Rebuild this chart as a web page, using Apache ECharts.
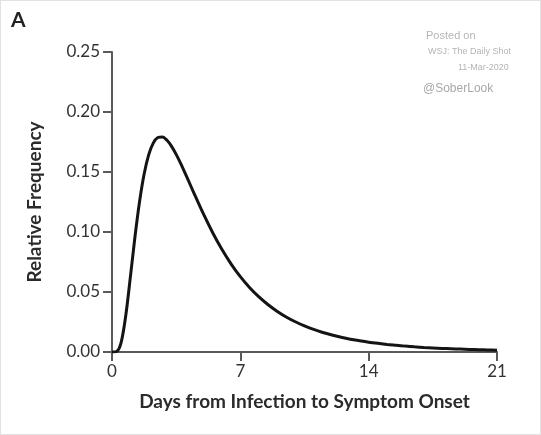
<!DOCTYPE html>
<html>
<head>
<meta charset="utf-8">
<script src="https://cdn.jsdelivr.net/npm/echarts@6/dist/echarts.min.js"></script>
<style>
html,body{margin:0;padding:0;background:#fff;}
#c{width:541px;height:435px;box-sizing:border-box;border:1px solid #e2e2e2;}
</style>
</head>
<body>
<div id="c"></div>
<script>
const days = [0, 0.25, 0.5, 0.75, 1, 1.25, 1.5, 1.75, 2, 2.25, 2.5, 2.75, 3, 3.25, 3.5, 3.75, 4,
  4.5, 5, 5.5, 6, 6.5, 7, 7.5, 8, 8.5, 9, 9.5, 10, 10.5, 11, 11.5, 12, 12.5, 13, 13.5, 14,
  14.5, 15, 15.5, 16, 16.5, 17, 17.5, 18, 18.5, 19, 19.5, 20, 20.5, 21];
const freq = [0, 0.0004, 0.0081, 0.0303, 0.0622, 0.0956, 0.1250, 0.1481, 0.1643, 0.1741, 0.1787, 0.1792, 0.1764, 0.1714, 0.1647, 0.1570, 0.1486,
  0.1314, 0.1146, 0.0992, 0.0854, 0.0733, 0.0628, 0.0538, 0.0461, 0.0396, 0.0340, 0.0292, 0.0252, 0.0218, 0.0188, 0.0163, 0.0142, 0.0123, 0.0107, 0.0094, 0.0082,
  0.0072, 0.0063, 0.0056, 0.0049, 0.0043, 0.0038, 0.0034, 0.0030, 0.0027, 0.0024, 0.0021, 0.0019, 0.0017, 0.0015];
const xTicks = [0, 7, 14, 21];
const yTicks = [0, 0.05, 0.10, 0.15, 0.20, 0.25];
const panelLabel = 'A';
const xName = 'Days from Infection to Symptom Onset';
const yName = 'Relative Frequency';
const credit = ['Posted on', 'WSJ: The Daily Shot', '11-Mar-2020', '@SoberLook'];

const chart = echarts.init(document.getElementById('c'), null, {renderer: 'canvas'});
const font = 'Lato, "Open Sans", sans-serif';
const axisColor = '#5a5a5a';
chart.setOption({
  animation: false,
  backgroundColor: '#fff',
  grid: {left: 111, right: 43, top: 51, bottom: 82},
  xAxis: {
    type: 'value', min: xTicks[0], max: xTicks[xTicks.length - 1], interval: 7,
    name: xName, nameLocation: 'middle', nameGap: 40,
    nameTextStyle: {fontFamily: font, fontWeight: 'bold', fontSize: 19, color: '#2b2b2b'},
    axisLine: {lineStyle: {color: axisColor, width: 2}},
    axisTick: {show: true, length: 9, lineStyle: {color: axisColor, width: 2}},
    axisLabel: {fontFamily: font, fontSize: 17, color: '#333', margin: 11},
    splitLine: {show: false}
  },
  yAxis: {
    type: 'value', min: yTicks[0], max: yTicks[yTicks.length - 1], interval: 0.05,
    name: yName, nameLocation: 'middle', nameGap: 68, nameRotate: 90,
    nameTextStyle: {fontFamily: font, fontWeight: 'bold', fontSize: 19, color: '#2b2b2b'},
    axisLine: {show: true, lineStyle: {color: axisColor, width: 2}},
    axisTick: {show: true, length: 9, lineStyle: {color: axisColor, width: 2}},
    axisLabel: {fontFamily: font, fontSize: 17, color: '#333', margin: 12,
      formatter: v => v.toFixed(2)},
    splitLine: {show: false}
  },
  graphic: [
    {type: 'text', left: 10, top: 9, style: {text: panelLabel, font: 'bold 21px ' + font, fill: '#222'}},
    {type: 'text', left: 425, top: 29, style: {text: credit[0], font: '11px "Liberation Sans", Arial, sans-serif', fill: '#b5b5b5'}},
    {type: 'text', left: 427, top: 46, style: {text: credit[1], font: '9px "Liberation Sans", Arial, sans-serif', fill: '#b5b5b5'}},
    {type: 'text', left: 457, top: 62, style: {text: credit[2], font: '9px "Liberation Sans", Arial, sans-serif', fill: '#b5b5b5'}},
    {type: 'text', left: 422, top: 82, style: {text: credit[3], font: '12px "Liberation Sans", Arial, sans-serif', fill: '#a8a8a8'}}
  ],
  series: [{
    type: 'line',
    data: days.map((d, i) => [d, freq[i]]),
    smooth: 0.3,
    showSymbol: false,
    lineStyle: {color: '#141414', width: 3}
  }]
});
</script>
</body>
</html>
